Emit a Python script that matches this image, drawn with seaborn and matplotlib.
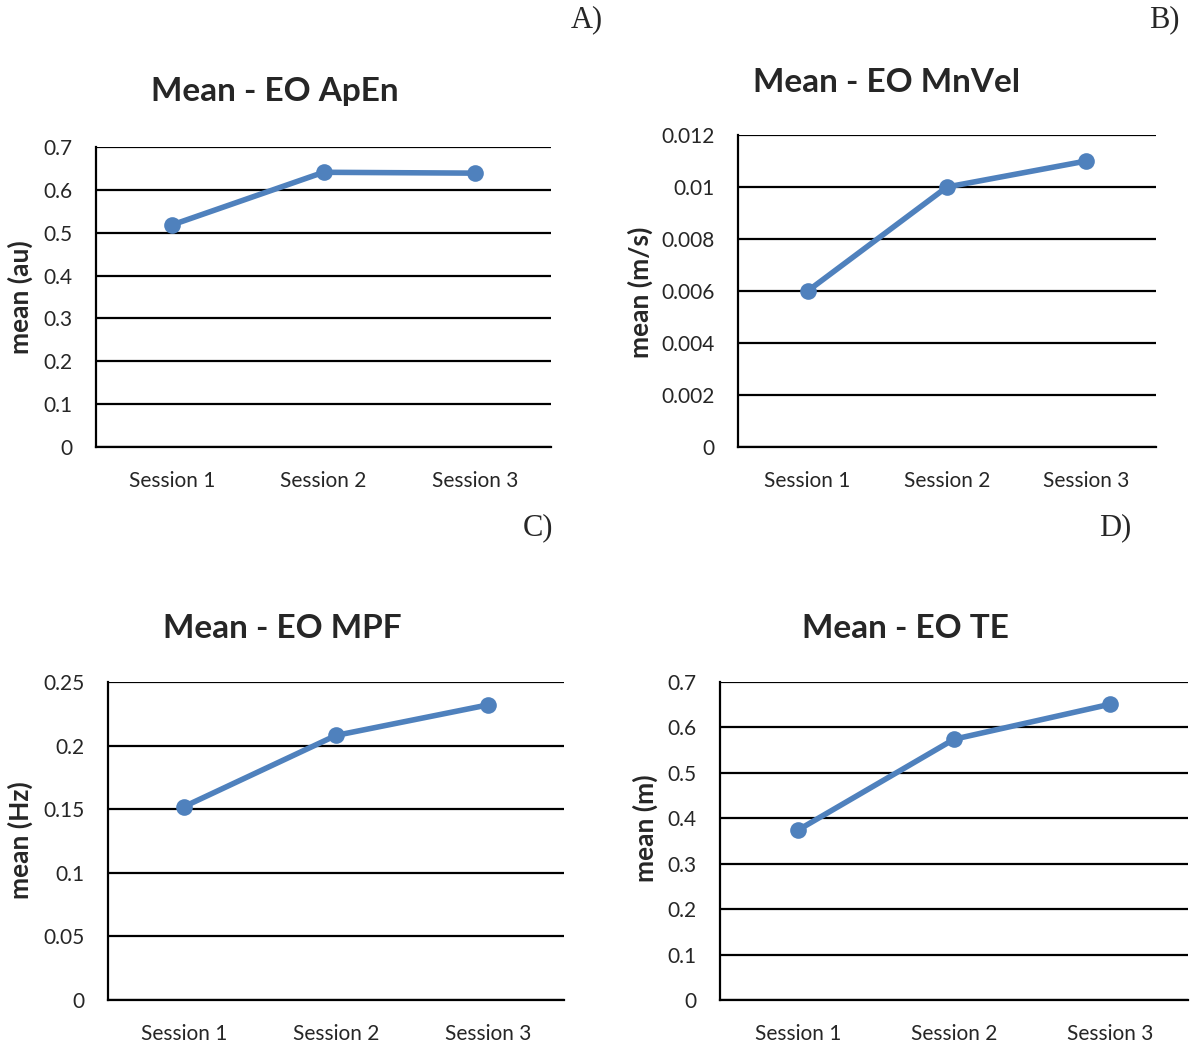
import matplotlib
matplotlib.use("Agg")
import matplotlib.pyplot as plt
import seaborn as sns
import pandas as pd
from matplotlib.ticker import FuncFormatter

sessions = ["Session 1", "Session 2", "Session 3"]

apen_vals = [0.518, 0.641, 0.639]
mnvel_vals = [0.006, 0.010, 0.011]
mpf_vals = [0.152, 0.208, 0.232]
te_vals = [0.374, 0.574, 0.651]

apen_ticks = [0, 0.1, 0.2, 0.3, 0.4, 0.5, 0.6, 0.7]
mnvel_ticks = [0, 0.002, 0.004, 0.006, 0.008, 0.01, 0.012]
mpf_ticks = [0, 0.05, 0.1, 0.15, 0.2, 0.25]
te_ticks = [0, 0.1, 0.2, 0.3, 0.4, 0.5, 0.6, 0.7]

titles = ["Mean - EO ApEn", "Mean - EO MnVel", "Mean - EO MPF", "Mean - EO TE"]
ylabels = ["mean (au)", "mean (m/s)", "mean (Hz)", "mean (m)"]
panel_tags = ["A)", "B)", "C)", "D)"]

sns.set_style("white")
plt.rcParams["font.family"] = ["Lato", "DejaVu Sans"]

W, H = 1192, 1046
fig = plt.figure(figsize=(W / 100, H / 100), dpi=100)

# axes boxes in pixels: left, top, right, bottom
boxes = [(96, 147, 551, 447), (738, 135, 1156, 447),
         (108, 682, 564, 1000), (720, 682, 1188, 1000)]
title_pos = [(275, 92), (887, 82), (282, 628), (905, 628)]
ylabel_pos = [(20, 297), (640, 292), (20, 840), (645, 828)]
tag_pos = [(603, 20), (1180, 20), (553, 528), (1131, 528)]

series = [apen_vals, mnvel_vals, mpf_vals, te_vals]
ticks = [apen_ticks, mnvel_ticks, mpf_ticks, te_ticks]

fmt = FuncFormatter(lambda v, p: "0" if v == 0 else "{:g}".format(round(v, 6)))
blue = "#4F81BD"

for i in range(4):
    l, t, r, b = boxes[i]
    ax = fig.add_axes([l / W, 1 - b / H, (r - l) / W, (b - t) / H])
    df = pd.DataFrame({"session": sessions, "value": series[i]})
    df["x"] = range(len(sessions))
    sns.lineplot(data=df, x="x", y="value", ax=ax, color=blue, lw=4,
                 marker="o", markersize=12, markeredgewidth=0, zorder=5)
    ax.set_xlim(-0.5, len(sessions) - 0.5)
    ax.set_ylim(ticks[i][0], ticks[i][-1])
    ax.set_yticks(ticks[i])
    ax.yaxis.set_major_formatter(fmt)
    ax.set_xticks(range(len(sessions)))
    ax.set_xticklabels(sessions)
    ax.set_xlabel("")
    ax.set_ylabel("")
    ax.grid(axis="y", color="black", lw=1.6)
    ax.set_axisbelow(True)
    for s in ["top", "right"]:
        ax.spines[s].set_visible(False)
    ax.spines["left"].set_color("black")
    ax.spines["left"].set_linewidth(1.6)
    ax.spines["bottom"].set_color("black")
    ax.spines["bottom"].set_linewidth(1.6)
    ax.tick_params(axis="y", length=0, pad=17, labelsize=15)
    ax.tick_params(axis="x", length=0, pad=17, labelsize=15)

    tx, ty = title_pos[i]
    fig.text(tx / W, 1 - ty / H, titles[i], ha="center", va="center",
             fontsize=24, fontweight="bold")
    yx, yy = ylabel_pos[i]
    fig.text(yx / W, 1 - yy / H, ylabels[i], ha="center", va="center",
             rotation=90, fontsize=19, fontweight="bold")
    gx, gy = tag_pos[i]
    fig.text(gx / W, 1 - gy / H, panel_tags[i], ha="right", va="center",
             fontsize=22, family=["Liberation Serif", "DejaVu Serif"])

fig.savefig("out.png", dpi=100, facecolor="white")
